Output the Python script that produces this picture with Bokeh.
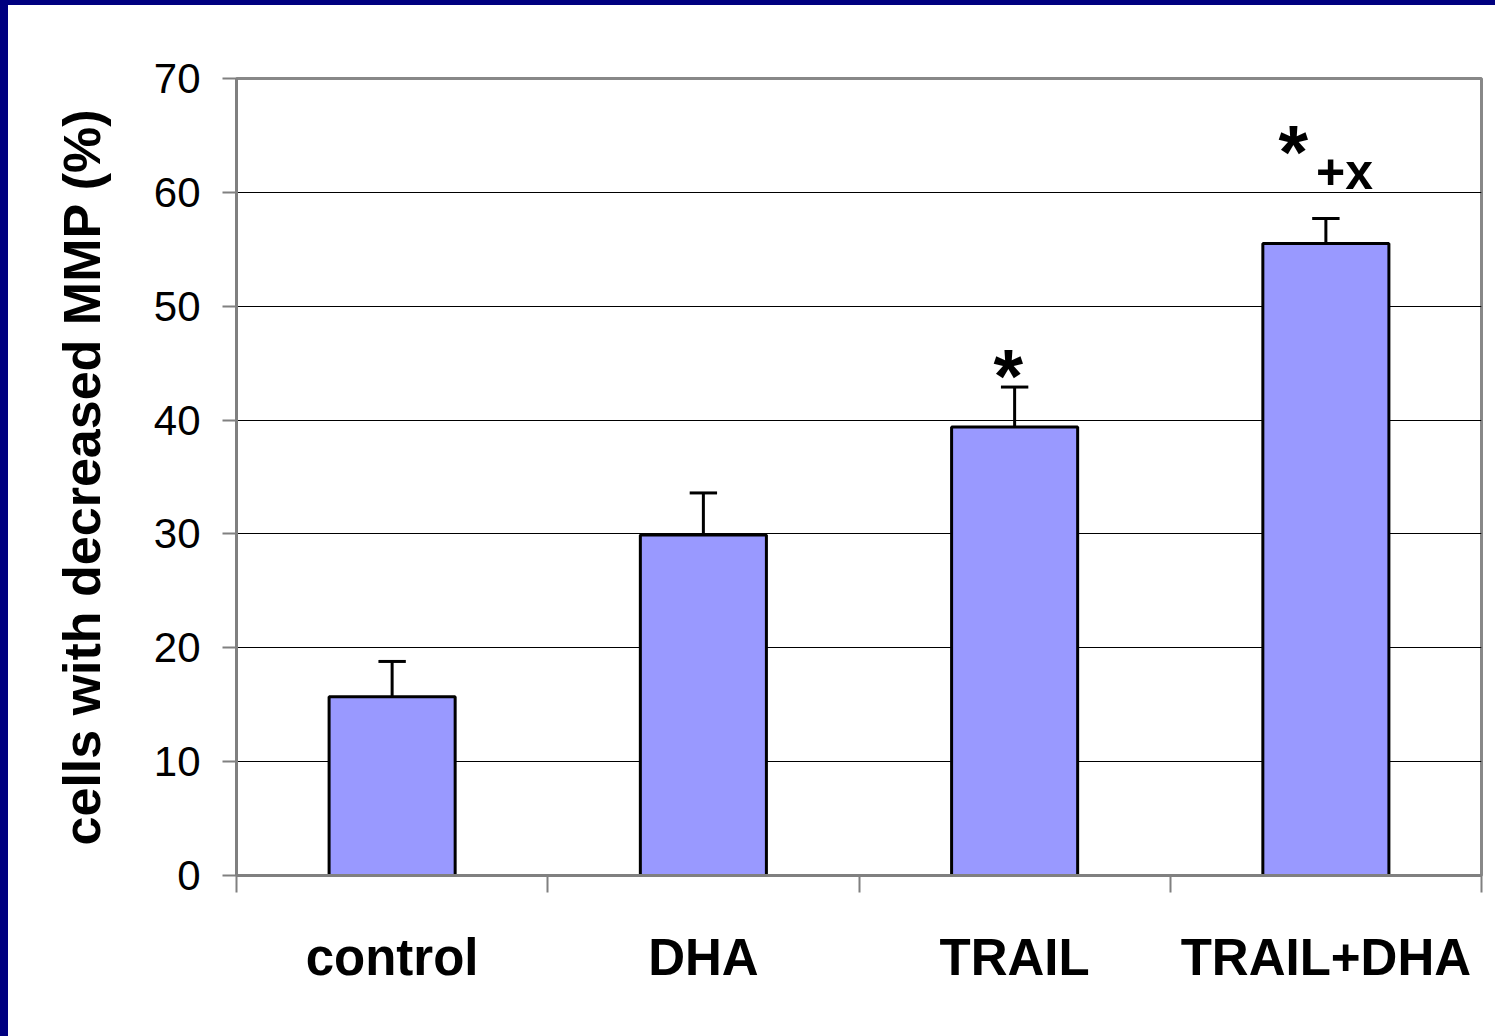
from bokeh.plotting import figure
from bokeh.models import Range1d, FixedTicker, ColumnDataSource, Div
from bokeh.layouts import column, row
from bokeh.core.properties import value
from bokeh.embed import file_html
from bokeh.resources import INLINE

categories = ["control", "DHA", "TRAIL", "TRAIL+DHA"]
means = [15.7, 29.9, 39.4, 55.5]
errors = [3.1, 3.7, 3.5, 2.2]
y_ticks = [0, 10, 20, 30, 40, 50, 60, 70]
marks = ["", "", "*", "*"]
sub_marks = ["", "", "", "+x"]

FONT = "Liberation Sans"
NAVY = "#000080"

xc = [i + 0.5 for i in range(len(categories))]
tops = [m + e for m, e in zip(means, errors)]

W, H = 1487, 1031

p = figure(width=W, height=H, x_range=Range1d(0, 4), y_range=Range1d(0, 70),
           output_backend="svg", toolbar_location=None,
           min_border_left=228, min_border_right=14, min_border_top=73, min_border_bottom=161)
p.outline_line_color = "#888888"
p.outline_line_width = 3
p.background_fill_color = "white"
p.border_fill_color = "white"

# grid
p.xgrid.visible = False
p.ygrid.grid_line_color = "black"
p.ygrid.grid_line_width = 1
p.ygrid.ticker = FixedTicker(ticks=y_ticks[1:-1])

# y axis
ya = p.yaxis[0]
ya.ticker = FixedTicker(ticks=y_ticks)
ya.axis_line_color = "#808080"
ya.axis_line_width = 3
ya.major_tick_line_color = "#808080"
ya.major_tick_line_width = 2
ya.major_tick_in = 0
ya.major_tick_out = 14
ya.minor_tick_line_color = None
ya.major_label_text_font = FONT
ya.major_label_text_font_size = "42px"
ya.major_label_text_color = "black"
ya.major_label_standoff = 22
ya.axis_label = "cells with decreased MMP (%)"
ya.axis_label_text_font = FONT
ya.axis_label_text_font_style = "bold"
ya.axis_label_text_font_size = "52px"
ya.axis_label_text_color = "black"
ya.axis_label_standoff = 40

# x axis: labels at centres, ticks at boundaries
xa = p.xaxis[0]
xa.ticker = FixedTicker(ticks=xc, minor_ticks=[0, 1, 2, 3, 4])
xa.major_label_overrides = {c: lab for c, lab in zip(xc, categories)}
xa.axis_line_color = "#808080"
xa.axis_line_width = 3
xa.major_tick_line_color = None
xa.major_tick_in = 0
xa.major_tick_out = 0
xa.minor_tick_line_color = "#808080"
xa.minor_tick_line_width = 2
xa.minor_tick_in = 0
xa.minor_tick_out = 17
xa.major_label_text_font = FONT
xa.major_label_text_font_style = "bold"
xa.major_label_text_font_size = "51px"
xa.major_label_text_color = "black"
xa.major_label_standoff = 36

src = ColumnDataSource(dict(x=xc, top=means, etop=tops,
                            cl=[v - 0.044 for v in xc], cr=[v + 0.044 for v in xc]))

p.segment(x0="x", y0="top", x1="x", y1="etop", source=src, line_color="black", line_width=3)
p.segment(x0="cl", y0="etop", x1="cr", y1="etop", source=src, line_color="black", line_width=3)
p.vbar(x="x", top="top", bottom=0, width=0.405, source=src,
       fill_color="#9999FF", line_color="black", line_width=3)

# significance marks
mk_x = [xc[0], xc[1], xc[2] - 0.02, xc[3] - 0.105]
mk_y = [0, 0, 43.9, 63.6]
p.text(x=mk_x, y=mk_y, text=marks, text_font=value(FONT), text_font_style="bold",
       text_font_size="76px", text_align="center", text_baseline="alphabetic", text_color="black")
sx = [xc[i] + 0.06 for i in range(len(categories))]
sy = [61.8] * len(categories)
p.text(x=sx, y=sy, text=sub_marks, text_font=value(FONT), text_font_style="bold",
       text_font_size="50px", text_align="center", text_baseline="alphabetic", text_color="black")

top_strip = Div(text="", width=W + 8, height=5, margin=0,
                styles={"background-color": NAVY})
left_strip = Div(text="", width=8, height=H, margin=0,
                 styles={"background-color": NAVY})
layout = column(top_strip, row(left_strip, p, spacing=0), spacing=0)

open("out.html", "w").write(file_html(layout, INLINE))
